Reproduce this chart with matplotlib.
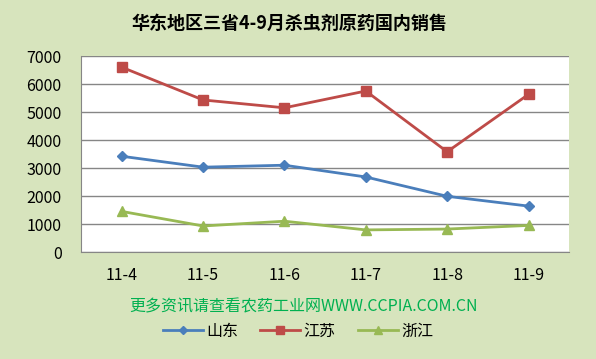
import matplotlib.pyplot as plt
import numpy as np

plt.rcParams['font.family'] = ['Noto Sans CJK SC', 'DejaVu Sans']

months = ["11-4", "11-5", "11-6", "11-7", "11-8", "11-9"]
shandong = [3420, 3030, 3100, 2680, 1990, 1640]
jiangsu = [6600, 5430, 5150, 5750, 3580, 5630]
zhejiang = [1450, 930, 1100, 790, 820, 950]
yticks = [0, 1000, 2000, 3000, 4000, 5000, 6000, 7000]

bg = "#D7E4BD"
fig = plt.figure(figsize=(5.96, 3.59), dpi=100, facecolor=bg)
ax = fig.add_axes([0.136, 0.298, 0.819, 0.546])
ax.set_facecolor("white")

x = np.arange(len(months))
ax.plot(x, shandong, color="#4A7EBB", lw=2, marker="D", ms=5, label="山东")
ax.plot(x, jiangsu, color="#BE4B48", lw=2, marker="s", ms=7, label="江苏")
ax.plot(x, zhejiang, color="#98B954", lw=2, marker="^", ms=7, label="浙江")

ax.set_xlim(-0.5, len(months) - 0.5)
ax.set_ylim(0, 7000)
ax.set_yticks(yticks)
ax.set_xticks(x, months)
ax.tick_params(length=0, labelsize=11.5)
ax.tick_params(axis="y", pad=14)
ax.tick_params(axis="x", pad=11)
ax.grid(axis="y", color="#868686", lw=1)
ax.set_axisbelow(True)
for s in ("top", "right"):
    ax.spines[s].set_visible(False)
for s in ("left", "bottom"):
    ax.spines[s].set_color("#868686")

fig.text(0.485, 0.935, "华东地区三省4-9月杀虫剂原药国内销售", ha="center", va="center",
         fontsize=13, fontweight="bold")
fig.text(0.51, 0.145, "更多资讯请查看农药工业网WWW.CCPIA.COM.CN", ha="center", va="center",
         fontsize=11.5, color="#00B050")
fig.legend(loc="center", bbox_to_anchor=(0.5, 0.078), ncol=3, frameon=False,
           fontsize=11.5, handlelength=2.5, columnspacing=1.4, handletextpad=0.2,
           markerscale=0.8)

fig.savefig("out.png", facecolor=bg)
